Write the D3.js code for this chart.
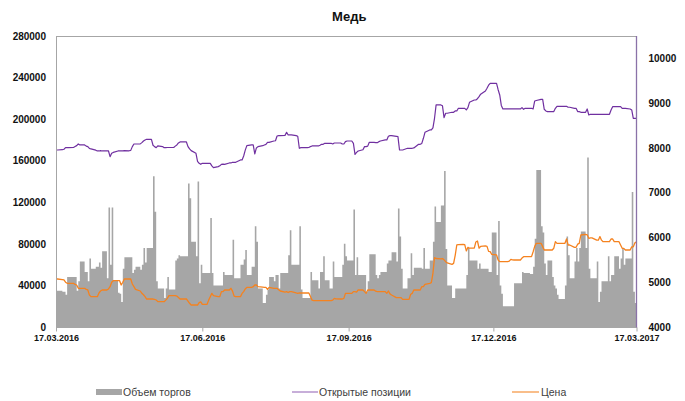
<!DOCTYPE html>
<html><head><meta charset="utf-8">
<script src="https://cdn.jsdelivr.net/npm/d3@7"></script>
<style>body{margin:0;background:#fff}svg{display:block}</style>
</head><body><div id="chart"></div>
<script>
// ---------- DATA ----------
const title = "Медь";
const seriesNames = ["Объем торгов", "Открытые позиции", "Цена"];
const startDate = "2016-03-17", endDate = "2017-03-17";
const xTickLabels = ["17.03.2016", "17.06.2016", "17.09.2016", "17.12.2016", "17.03.2017"];
const leftTicks = [0, 40000, 80000, 120000, 160000, 200000, 240000, 280000];
const rightTicks = [4000, 5000, 6000, 7000, 8000, 9000, 10000];

// trading volume, one value per weekday
const volume = [
35000,35000,34000,34000,31000,48000,48000,48000,48000,35000,
44000,63000,53000,53000,44000,66000,56000,58000,58000,62000,
57000,73000,47000,115000,60000,115000,45000,33000,32000,24000,
56000,67000,67000,67000,52000,55000,58000,55000,60000,76000,
62000,76000,76000,145000,111000,44000,37000,37000,28000,37000,
48000,36000,36000,64000,66000,69000,68000,68000,68000,138000,
124000,82000,68000,140000,42000,60000,52000,52000,52000,105000,
52000,40000,40000,40000,40000,53000,50000,50000,50000,84000,
47000,47000,60000,60000,65000,74000,50000,58000,58000,97000,
82000,37000,23000,23000,31000,36000,48000,44000,50000,50000,
37000,52000,52000,52000,69000,93000,60000,60000,60000,97000,
36000,28000,28000,28000,53000,45000,45000,37000,53000,53000,
68000,45000,37000,37000,63000,48000,48000,48000,60000,80000,
68000,64000,64000,113000,50000,67000,50000,50000,50000,34000,
44000,70000,70000,50000,47000,50000,53000,53000,61000,64000,
64000,72000,63000,114000,87000,56000,37000,47000,47000,71000,
50000,57000,57000,57000,56000,76000,56000,64000,64000,82000,
116000,101000,117000,117000,150000,75000,40000,28000,28000,37000,
37000,37000,37000,37000,50000,76000,64000,64000,64000,56000,
61000,56000,56000,56000,53000,53000,91000,50000,102000,40000,
32000,20000,20000,20000,20000,20000,42000,42000,42000,53000,
52000,52000,51000,51000,58000,85000,151000,97000,91000,61000,
50000,64000,48000,40000,37000,31000,27000,27000,40000,87000,
69000,47000,63000,76000,63000,76000,92000,76000,163000,56000,
47000,47000,63000,24000,34000,44000,44000,68000,44000,50000,
50000,68000,56000,66000,76000,60000,66000,66000,130000,34000,
23000,20000];

// open interest (right axis)
const openInterest = [
7954,7954,7960,7970,8006,8006,8006,8010,8030,8051,
8088,8066,8066,8040,8029,7990,7977,7950,7932,7932,
7940,7932,7936,7932,7805,7880,7900,7932,7936,7936,
7936,7940,7936,7945,8029,8088,8088,8090,8118,8155,
8178,8193,8193,8060,8029,8006,8044,8030,8006,8006,
8010,8010,8010,8040,8066,8110,8133,8133,8133,8029,
7977,7940,7880,7700,7656,7634,7656,7656,7656,7656,
7600,7560,7582,7600,7634,7640,7634,7664,7664,7679,
7679,7679,7731,7731,7820,7950,8051,8066,8066,7865,
8000,8029,8050,8066,8080,8125,8125,8155,8160,8267,
8275,8275,8280,8349,8290,8290,8290,8275,8260,7992,
8006,8006,8006,8010,8030,8044,8044,8044,8060,8081,
8081,8103,8103,8103,8088,8110,8110,8110,8088,8088,
8140,8155,8155,8100,7857,7900,7932,7960,8029,8029,
8040,8125,8125,8120,8118,8140,8155,8178,8178,8260,
8275,8275,8260,8252,7954,7954,7954,7992,7992,7992,
7992,8000,8081,8081,8100,8215,8349,8401,8401,8450,
8662,8960,8960,8940,8677,8774,8774,8796,8796,8826,
8826,8885,8885,8885,8848,8900,9019,9071,9071,9100,
9146,9200,9272,9332,9400,9444,9444,9444,9300,9183,
8950,8870,8870,8870,8870,8870,8870,8870,8870,8900,
8863,8885,8885,8885,8870,9049,9060,9086,9086,8863,
8826,8811,8811,8811,8885,8930,8930,8930,8930,8930,
8908,8908,8885,8885,8811,8811,8796,8796,8870,8736,
8751,8751,8751,8751,8751,8751,8751,8751,8751,8848,
8922,8922,8922,8922,8885,8885,8885,8870,8848,8662,
8662,8662];

// price (right axis)
const price = [
5072,5072,5060,5050,5000,4976,4976,4976,4950,4938,
4864,4864,4864,4840,4827,4715,4678,4678,4678,4760,
4804,4827,4827,4850,4901,5000,5035,5035,5035,4938,
5000,5072,5072,5072,4960,4901,4840,4804,4752,4720,
4678,4625,4625,4625,4615,4603,4566,4566,4566,4600,
4640,4700,4700,4700,4690,4660,4625,4625,4625,4580,
4529,4491,4491,4491,4544,4560,4506,4506,4600,4678,
4752,4700,4678,4678,4790,4790,4827,4827,4864,4800,
4690,4678,4678,4750,4790,4850,4886,4886,4900,4938,
4938,4901,4890,4886,4886,4840,4886,4864,4864,4864,
4830,4804,4780,4790,4770,4790,4790,4760,4752,4760,
4760,4760,4760,4760,4680,4600,4590,4588,4588,4588,
4588,4588,4590,4588,4600,4640,4630,4625,4625,4640,
4752,4752,4752,4790,4790,4780,4827,4827,4790,4752,
4827,4827,4827,4800,4790,4790,4790,4790,4752,4804,
4740,4715,4655,4655,4655,4655,4618,4618,4618,4730,
4752,4827,4827,4827,4901,4901,4950,4976,4990,5200,
5549,5530,5520,5530,5500,5460,5430,5400,5420,5600,
5832,5840,5846,5840,5700,5780,5760,5760,5900,5921,
5760,5800,5810,5800,5690,5683,5620,5610,5497,5460,
5460,5460,5460,5470,5510,5500,5497,5497,5497,5540,
5571,5571,5571,5571,5680,5800,5869,5869,5795,5720,
5720,5720,5720,5760,5906,5869,5869,5869,5869,5966,
5832,5832,5780,5780,5850,5869,6055,6070,6060,5980,
5990,5990,5940,5940,6020,5940,5906,5906,5906,5966,
5966,5906,5906,5832,5757,5757,5720,5720,5790,5790,
5880,5900];

// ---------- CHART ----------
const W = 685, H = 401;
const M = {left: 56, right: 636.5, top: 36, bottom: 327};
const parse = d3.utcParse("%Y-%m-%d");
const fmt = d3.utcFormat("%d.%m.%Y");
const d0 = parse(startDate), d1 = parse(endDate);
const dates = d3.utcDay.range(d0, d3.utcDay.offset(d1, 1)).filter(d => d.getUTCDay() % 6 !== 0);

const x = d3.scaleUtc().domain([d0, d1]).range([M.left, M.right]);
const yL = d3.scaleLinear().domain([0, 280000]).range([M.bottom, M.top]);
const yR = d3.scaleLinear().domain([4000, 10500]).range([M.bottom, M.top]);

const COL_BAR = "#a6a6a6", COL_OI = "#7030a0", COL_PR = "#f5821f";
const FONT = "'Liberation Sans', Arial, sans-serif";

const svg = d3.select("#chart").append("svg").attr("width", W).attr("height", H)
  .style("font-family", FONT);

svg.append("defs").append("clipPath").attr("id", "clip")
  .append("rect").attr("x", M.left).attr("y", M.top)
  .attr("width", M.right - M.left).attr("height", M.bottom - M.top);

// title
svg.append("text").attr("x", (M.left + M.right) / 2 + 3).attr("y", 21)
  .attr("text-anchor", "middle").attr("font-size", 13).attr("font-weight", "bold")
  .attr("fill", "#111").text(title);

// volume bars (adjacent columns drawn as one stepped shape so they join without seams)
const gp = svg.append("g").attr("clip-path", "url(#clip)");
const bars = dates.map((d, i) => ({d, v: volume[i]}));
bars.push({d: d3.utcDay.offset(dates[dates.length - 1], 1), v: volume[volume.length - 1]});
const area = d3.area().curve(d3.curveStepAfter)
  .x(b => x(b.d)).y0(yL(0)).y1(b => yL(b.v));
gp.append("path").datum(bars).attr("d", area).attr("fill", COL_BAR);

// lines
const line = d3.line().x((d, i) => x(dates[i])).y(d => yR(d));
gp.append("path").datum(openInterest).attr("d", line)
  .attr("fill", "none").attr("stroke", COL_OI).attr("stroke-width", 1.2).attr("stroke-linejoin", "round");
gp.append("path").datum(price).attr("d", line)
  .attr("fill", "none").attr("stroke", COL_PR).attr("stroke-width", 1.3).attr("stroke-linejoin", "round");

// frame
svg.append("line").attr("x1", M.left).attr("x2", M.right).attr("y1", M.top + 0.5).attr("y2", M.top + 0.5)
  .attr("stroke", "#a6a6a6");
svg.append("line").attr("x1", M.left + 0.5).attr("x2", M.left + 0.5).attr("y1", M.top).attr("y2", M.bottom)
  .attr("stroke", "#a6a6a6");
svg.append("line").attr("x1", M.right).attr("x2", M.right).attr("y1", M.top).attr("y2", M.bottom + 1)
  .attr("stroke", "#8a72a8").attr("stroke-width", 1.3);

// x axis
const xTickDates = xTickLabels.map(s => d3.utcParse("%d.%m.%Y")(s));
const xAxis = d3.axisBottom(x).tickValues(xTickDates).tickFormat(fmt).tickSize(4).tickPadding(3);
const gx = svg.append("g").attr("transform", `translate(0,${M.bottom + 0.5})`).call(xAxis);
gx.select(".domain").attr("stroke", "#a6a6a6").attr("d", `M${M.left},0H${M.right}`);
gx.selectAll(".tick line").attr("stroke", "#a6a6a6");
gx.selectAll("text").attr("font-size", 9).attr("font-weight", "bold").attr("fill", "#111")
  .attr("font-family", FONT);

// left axis
const gl = svg.append("g").attr("transform", `translate(${M.left},0)`)
  .call(d3.axisLeft(yL).tickValues(leftTicks).tickFormat(d3.format("d")).tickSize(0).tickPadding(10));
gl.select(".domain").remove();
gl.selectAll("text").attr("font-size", 10).attr("font-weight", "bold").attr("fill", "#111")
  .attr("font-family", FONT);

// right axis
const gr = svg.append("g").attr("transform", `translate(${M.right},0)`)
  .call(d3.axisRight(yR).tickValues(rightTicks).tickFormat(d3.format("d")).tickSize(0).tickPadding(12));
gr.select(".domain").remove();
gr.selectAll("text").attr("font-size", 10).attr("font-weight", "bold").attr("fill", "#111")
  .attr("font-family", FONT);

// legend
const ly = 392;
const lg = svg.append("g").attr("font-size", 10.5).attr("fill", "#404040");
lg.append("rect").attr("x", 96).attr("y", ly - 3).attr("width", 26).attr("height", 6).attr("fill", COL_BAR);
lg.append("text").attr("x", 123).attr("y", ly + 4).text(seriesNames[0]);
lg.append("line").attr("x1", 292).attr("x2", 318).attr("y1", ly).attr("y2", ly)
  .attr("stroke", COL_OI).attr("stroke-width", 1.3).attr("opacity", 0.6);
lg.append("text").attr("x", 319).attr("y", ly + 4).text(seriesNames[1]);
lg.append("line").attr("x1", 512).attr("x2", 539).attr("y1", ly).attr("y2", ly)
  .attr("stroke", COL_PR).attr("stroke-width", 1.3).attr("opacity", 0.8);
lg.append("text").attr("x", 541).attr("y", ly + 4).text(seriesNames[2]);
</script></body></html>
